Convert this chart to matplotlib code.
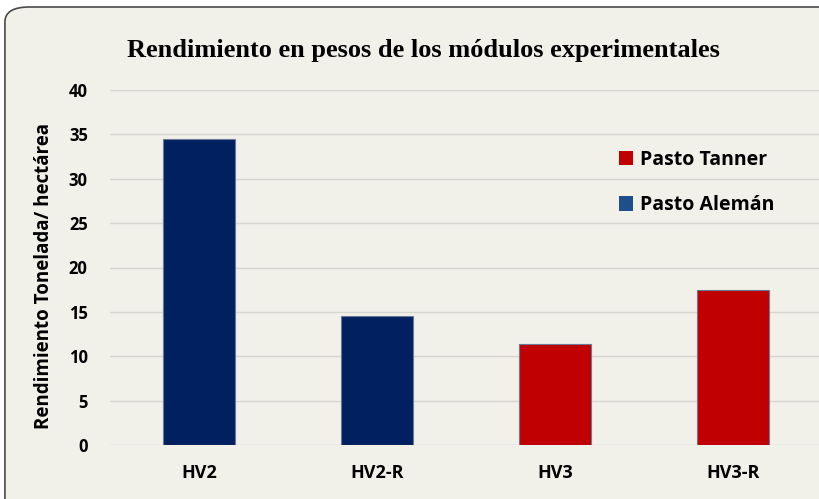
import matplotlib.pyplot as plt
from matplotlib.patches import Patch, FancyBboxPatch

# data
categories = ['HV2', 'HV2-R', 'HV3', 'HV3-R']
values = [34.5, 14.5, 11.4, 17.5]
groups = ['Pasto Alemán', 'Pasto Alemán', 'Pasto Tanner', 'Pasto Tanner']
yticks = [0, 5, 10, 15, 20, 25, 30, 35, 40]

bar_colors = {'Pasto Alemán': '#002060', 'Pasto Tanner': '#C00000'}
legend_colors = {'Pasto Tanner': '#C00000', 'Pasto Alemán': '#1F4E8C'}
bg = '#F1F0E9'
sans = 'Open Sans'

fig = plt.figure(figsize=(8.19, 4.99), dpi=100, facecolor='white')

# rounded frame of the chart area
frame = FancyBboxPatch((0.006, -0.05), 1.05, 1.036,
                       boxstyle='round,pad=0,rounding_size=0.03',
                       transform=fig.transFigure, facecolor=bg,
                       edgecolor='#4a4a4a', linewidth=1.2, zorder=-5)
fig.patches.append(frame)

ax = fig.add_axes([110 / 819, 1 - 445 / 499, 712 / 819, 355 / 499])
ax.set_facecolor('none')
ax.set_zorder(2)

x = range(len(categories))
ax.bar(x, values, width=0.405,
       color=[bar_colors[g] for g in groups],
       edgecolor='#6a7a96', linewidth=0.8, zorder=3)

ax.set_xlim(-0.5, 3.5)
ax.set_ylim(0, 40)
ax.set_yticks(yticks)
ax.set_xticks(list(x))
ax.set_xticklabels(categories, fontsize=13, fontweight='bold', family=sans)
ax.set_yticklabels([str(t) for t in yticks], fontsize=12, fontweight='bold',
                   family=sans)
ax.tick_params(axis='both', length=0)
ax.tick_params(axis='x', pad=14)
ax.tick_params(axis='y', pad=16)
ax.grid(axis='y', color='#d6d6d0', linewidth=1, zorder=0)
for s in ax.spines.values():
    s.set_visible(False)

ax.set_ylabel('Rendimiento Tonelada/ hectárea', fontsize=13.5, fontweight='bold',
              family=sans)
ax.yaxis.set_label_coords(-0.078, 0.475)

fig.text(423 / 819, 1 - 50 / 499,
         'Rendimiento en pesos de los módulos experimentales',
         ha='center', va='center', fontsize=19, fontweight='bold',
         family='Liberation Serif')

handles = [Patch(facecolor=legend_colors[k], label=k) for k in legend_colors]
leg = ax.legend(handles=handles, loc='upper left',
                bbox_to_anchor=(0.69, 0.88), frameon=False,
                prop={'family': sans, 'weight': 'bold', 'size': 14},
                handlelength=0.75, handleheight=0.75, handletextpad=0.35,
                labelspacing=1.3)

fig.savefig('out.png', dpi=100)
